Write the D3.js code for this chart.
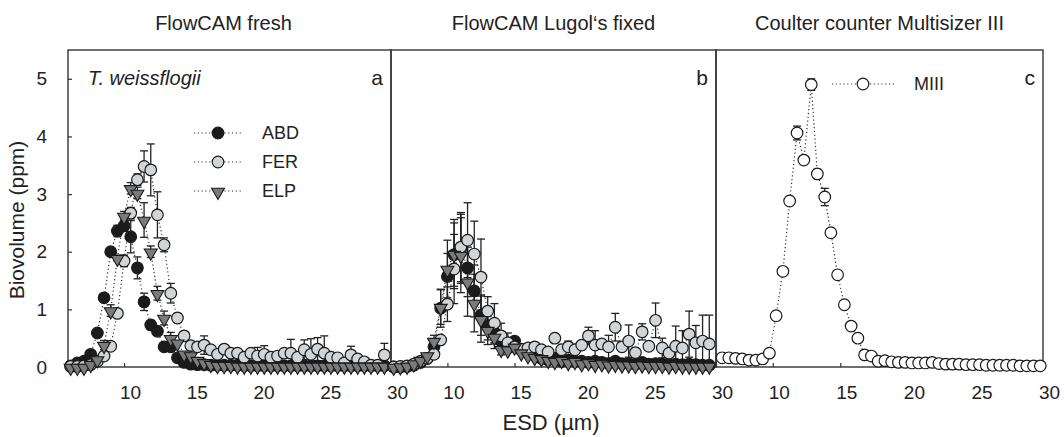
<!DOCTYPE html>
<html>
<head>
<meta charset="utf-8">
<script src="https://cdn.jsdelivr.net/npm/d3@7"></script>
<style>
    body { margin: 0; background: #fff; }
    svg text { font-family: "Liberation Sans", Arial, sans-serif; fill: #222; }
</style>
</head>
<body>
<div id="chart-div"></div>
<script>

// ESD bin centres (um) used by the FlowCAM series
const esd = [6.0, 6.5, 7.0, 7.5, 8.0, 8.5, 9.0, 9.5, 10.0, 10.5, 11.0, 11.5, 12.0, 12.5, 13.0, 13.5,
    14.0, 14.5, 15.0, 15.5, 16.0, 16.5, 17.0, 17.5, 18.0, 18.5, 19.0, 19.5, 20.0, 20.5, 21.0, 21.5,
    22.0, 22.5, 23.0, 23.5, 24.0, 24.5, 25.0, 25.5, 26.0, 26.5, 27.0, 27.5, 28.0, 28.5, 29.0, 29.5];

// panel a - FlowCAM fresh
const freshABD = [0.02, 0.07, 0.10, 0.22, 0.59, 1.20, 2.00, 2.36, 2.45, 2.26, 1.72, 1.13, 0.73, 0.62, 0.35, 0.35,
    0.16, 0.08, 0.05, 0.04, 0.04, 0.03, 0.03, 0.03, 0.03, 0.03, 0.02, 0.02, 0.02, 0.02, 0.02, 0.02,
    0.02, 0.02, 0.02, 0.02, 0.02, 0.02, 0.02, 0.02, 0.02, 0.02, 0.02, 0.02, 0.02, 0.02, 0.02, 0.02];
const freshFER = [0.01, 0.01, 0.02, 0.04, 0.10, 0.19, 0.36, 0.93, 1.84, 2.67, 3.25, 3.48, 3.42, 2.64, 2.12, 1.28,
    0.85, 0.54, 0.37, 0.35, 0.38, 0.30, 0.22, 0.31, 0.24, 0.24, 0.17, 0.24, 0.19, 0.22, 0.17, 0.19,
    0.24, 0.24, 0.17, 0.30, 0.22, 0.31, 0.24, 0.17, 0.16, 0.07, 0.21, 0.14, 0.09, 0.03, 0.03, 0.21];
const freshELP = [0.00, 0.00, 0.00, 0.05, 0.13, 0.38, 0.98, 1.89, 2.62, 3.10, 3.02, 2.55, 2.00, 1.28, 0.85, 0.50,
    0.42, 0.23, 0.20, 0.12, 0.08, 0.05, 0.03, 0.03, 0.03, 0.02, 0.02, 0.02, 0.02, 0.02, 0.02, 0.02,
    0.02, 0.02, 0.02, 0.02, 0.02, 0.02, 0.02, 0.02, 0.02, 0.02, 0.02, 0.02, 0.02, 0.02, 0.02, 0.02];
// error bars as [bin index, sd]
const freshABDErr = [[7, 0.10], [8, 0.10], [9, 0.28], [10, 0.19], [11, 0.15], [12, 0.08]];
const freshFERErr = [[8, 0.10], [9, 0.10], [10, 0.10], [11, 0.27], [12, 0.45], [13, 0.40], [14, 0.12], [15, 0.17],
    [16, 0.08], [20, 0.16], [28, 0.15], [29, 0.15], [33, 0.24], [35, 0.17], [36, 0.27], [37, 0.20], [38, 0.30],
    [40, 0.05], [42, 0.15], [47, 0.20]];
const freshELPErr = [[5, 0.08], [6, 0.10], [7, 0.05], [8, 0.08], [9, 0.10], [10, 0.10], [11, 0.30], [12, 0.10],
    [13, 0.12], [14, 0.12], [15, 0.10]];

// panel b - FlowCAM Lugol's fixed
const lugolABD = [0.00, 0.00, 0.01, 0.03, 0.08, 0.15, 0.35, 1.02, 1.57, 1.95, 2.05, 1.72, 1.32, 0.90, 0.72, 0.60,
    0.45, 0.42, 0.45, 0.30, 0.25, 0.20, 0.15, 0.12, 0.15, 0.10, 0.12, 0.10, 0.10, 0.08, 0.10, 0.08,
    0.06, 0.10, 0.06, 0.06, 0.05, 0.08, 0.05, 0.06, 0.05, 0.04, 0.05, 0.04, 0.05, 0.04, 0.03, 0.03];
const lugolFER = [0.00, 0.01, 0.02, 0.05, 0.10, 0.15, 0.22, 0.47, 1.09, 1.70, 2.08, 2.20, 1.96, 1.56, 0.97, 0.76,
    0.54, 0.42, 0.35, 0.31, 0.33, 0.35, 0.30, 0.26, 0.50, 0.30, 0.35, 0.30, 0.38, 0.54, 0.38, 0.40,
    0.35, 0.69, 0.35, 0.45, 0.25, 0.61, 0.36, 0.81, 0.33, 0.24, 0.36, 0.33, 0.57, 0.42, 0.45, 0.40];
const lugolELP = [0.00, 0.01, 0.02, 0.06, 0.12, 0.20, 0.45, 1.04, 1.70, 1.96, 1.94, 1.48, 1.11, 0.83, 0.64, 0.52,
    0.31, 0.30, 0.35, 0.25, 0.20, 0.17, 0.15, 0.12, 0.10, 0.12, 0.08, 0.10, 0.06, 0.08, 0.05, 0.06,
    0.04, 0.05, 0.04, 0.04, 0.03, 0.04, 0.03, 0.03, 0.03, 0.02, 0.03, 0.02, 0.02, 0.02, 0.02, 0.02];
const lugolABDErr = [[7, 0.33], [8, 0.40], [9, 0.55], [10, 0.60], [11, 0.50], [12, 0.45], [13, 0.35], [14, 0.25],
    [15, 0.20], [16, 0.15]];
const lugolFERErr = [[8, 0.30], [9, 0.60], [10, 0.60], [11, 0.65], [12, 0.57], [13, 0.66], [14, 0.25], [15, 0.34],
    [16, 0.22], [17, 0.17], [24, 0.08], [26, 0.10], [29, 0.15], [30, 0.25], [32, 0.20], [33, 0.24], [35, 0.28],
    [37, 0.14], [39, 0.30], [40, 0.17], [42, 0.35], [43, 0.30], [44, 0.40], [45, 0.30], [46, 0.45], [47, 0.50]];
const lugolELPErr = [[6, 0.10], [7, 0.30], [8, 0.50], [9, 0.60], [10, 0.65], [11, 0.60], [12, 0.50], [13, 0.40],
    [14, 0.25], [15, 0.20], [16, 0.10]];

// panel c - Coulter counter Multisizer III
const miiiESD = [6.25, 6.75, 7.25, 7.75, 8.25, 8.75, 9.25, 9.75, 10.25, 10.75, 11.25, 11.8, 12.3, 12.85, 13.3, 13.85,
    14.3, 14.8, 15.3, 15.8, 16.3, 16.8, 17.3, 17.8, 18.3, 18.8, 19.3, 19.8, 20.3, 20.8, 21.3, 21.8,
    22.3, 22.8, 23.3, 23.8, 24.3, 24.8, 25.3, 25.8, 26.3, 26.8, 27.3, 27.8, 28.3, 28.8, 29.3, 29.8];
const miiiVol = [0.16, 0.16, 0.15, 0.14, 0.12, 0.12, 0.14, 0.24, 0.89, 1.66, 2.88, 4.06, 3.59, 4.90, 3.35, 2.95,
    2.33, 1.60, 1.08, 0.71, 0.50, 0.21, 0.19, 0.10, 0.11, 0.09, 0.08, 0.08, 0.07, 0.07, 0.07, 0.08,
    0.06, 0.05, 0.05, 0.05, 0.04, 0.04, 0.04, 0.03, 0.03, 0.03, 0.03, 0.03, 0.02, 0.02, 0.02, 0.02];
const miiiErr = [[11, 0.12], [13, 0.10], [14, 0.08], [15, 0.15]];

const panelTitles = ["FlowCAM fresh", "FlowCAM Lugol\u2018s fixed", "Coulter counter Multisizer III"];
const panelLetters = ["a", "b", "c"];
const xTicks = [10, 15, 20, 25, 30];
const yTicks = [0, 1, 2, 3, 4, 5];
const seriesNames = ["ABD", "FER", "ELP"];


class sizeChart {
    constructor() {
        this.parentElement = "chart-div";
        this.initVis();
    }

    initVis() {
        let vis = this;
        vis.width = 1064;
        vis.height = 437;
        vis.top = 50;
        vis.bottom = 367;
        vis.edges = [68, 391, 716, 1043];

        vis.svg = d3.select("#" + vis.parentElement)
            .append("svg")
            .attr("width", vis.width)
            .attr("height", vis.height);

        vis.y = d3.scaleLinear()
            .domain([0, 5.5])
            .range([vis.bottom, vis.top]);

        vis.styles = {
            ABD: {shape: "circle", fill: "#1b1b1b"},
            FER: {shape: "circle", fill: "#d2d5d7"},
            ELP: {shape: "triangle", fill: "#7b7b7b"},
            MIII: {shape: "circle", fill: "#ffffff"}
        };

        vis.drawPanel(0, [
            {name: "ABD", x: esd, v: freshABD, err: freshABDErr},
            {name: "FER", x: esd, v: freshFER, err: freshFERErr},
            {name: "ELP", x: esd, v: freshELP, err: freshELPErr}
        ]);
        vis.drawPanel(1, [
            {name: "ABD", x: esd, v: lugolABD, err: lugolABDErr},
            {name: "FER", x: esd, v: lugolFER, err: lugolFERErr},
            {name: "ELP", x: esd, v: lugolELP, err: lugolELPErr}
        ]);
        vis.drawPanel(2, [
            {name: "MIII", x: miiiESD, v: miiiVol, err: miiiErr}
        ]);

        vis.drawLabels();
    }

    marker(sel, name, cx, cy) {
        let vis = this;
        let st = vis.styles[name];
        if (st.shape === "circle") {
            sel.append("circle")
                .attr("cx", cx)
                .attr("cy", cy)
                .attr("r", 5.8)
                .attr("fill", st.fill)
                .attr("stroke", "#1a1a1a")
                .attr("stroke-width", 1.2);
        } else {
            sel.append("path")
                .attr("d", d3.symbol().type(d3.symbolTriangle).size(72)())
                .attr("transform", `translate(${cx},${cy + 1}) rotate(180)`)
                .attr("fill", st.fill)
                .attr("stroke", "#1a1a1a")
                .attr("stroke-width", 1.1);
        }
    }

    drawPanel(p, series) {
        let vis = this;
        let x = d3.scaleLinear()
            .domain([5.8, 30])
            .range([vis.edges[p], vis.edges[p + 1]]);

        let g = vis.svg.append("g").attr("class", "panel-" + panelLetters[p]);

        // frame
        g.append("rect")
            .attr("x", vis.edges[p])
            .attr("y", vis.top)
            .attr("width", vis.edges[p + 1] - vis.edges[p])
            .attr("height", vis.bottom - vis.top)
            .attr("fill", "none")
            .attr("stroke", "#333")
            .attr("stroke-width", 1.4);

        // x axis, ticks pointing inward
        g.append("g")
            .attr("transform", `translate(0,${vis.bottom})`)
            .call(d3.axisBottom(x).tickValues(xTicks).tickFormat(d3.format("d")).tickSize(-4).tickPadding(19))
            .call(a => a.select(".domain").remove())
            .call(a => a.selectAll("line").attr("stroke", "#333").attr("stroke-width", 1.2))
            .call(a => a.selectAll("text").attr("dx", 6).attr("font-size", 19)
                .attr("font-family", "Liberation Sans, Arial, sans-serif").attr("fill", "#222"));

        if (p === 0) {
            g.append("g")
                .attr("transform", `translate(${vis.edges[0]},0)`)
                .call(d3.axisLeft(vis.y).tickValues(yTicks).tickFormat(d3.format("d")).tickSize(-4).tickPadding(21))
                .call(a => a.select(".domain").remove())
                .call(a => a.selectAll("line").attr("stroke", "#333").attr("stroke-width", 1.2))
                .call(a => a.selectAll("text").attr("font-size", 19)
                    .attr("font-family", "Liberation Sans, Arial, sans-serif").attr("fill", "#222"));
        }

        let line = d3.line()
            .x(d => x(d[0]))
            .y(d => vis.y(d[1]));

        // dotted connecting lines
        series.forEach(s => {
            let pts = s.x.map((xv, i) => [xv, s.v[i]]);
            g.append("path")
                .attr("d", line(pts))
                .attr("fill", "none")
                .attr("stroke", "#333")
                .attr("stroke-width", 1.2)
                .attr("stroke-dasharray", "1.2,2.6");
        });

        // error bars
        series.forEach(s => {
            s.err.forEach(e => {
                let i = e[0];
                let cx = x(s.x[i]);
                let y1 = vis.y(s.v[i] + e[1]);
                let y0 = vis.y(Math.max(0, s.v[i] - e[1]));
                g.append("line")
                    .attr("x1", cx).attr("x2", cx)
                    .attr("y1", y1).attr("y2", y0)
                    .attr("stroke", "#222").attr("stroke-width", 1.3);
                [y1, y0].forEach(yy => {
                    g.append("line")
                        .attr("x1", cx - 4).attr("x2", cx + 4)
                        .attr("y1", yy).attr("y2", yy)
                        .attr("stroke", "#222").attr("stroke-width", 1.3);
                });
            });
        });

        // markers
        series.forEach(s => {
            s.x.forEach((xv, i) => {
                vis.marker(g, s.name, x(xv), vis.y(s.v[i]));
            });
        });

        // panel title + letter
        vis.svg.append("text")
            .attr("x", (vis.edges[p] + vis.edges[p + 1]) / 2 - (p === 0 ? 6 : 0))
            .attr("y", 30)
            .attr("text-anchor", "middle")
            .attr("font-size", 20)
            .text(panelTitles[p]);

        vis.svg.append("text")
            .attr("x", vis.edges[p + 1] - 8)
            .attr("y", 85)
            .attr("text-anchor", "end")
            .attr("font-size", 21)
            .text(panelLetters[p]);
    }

    drawLabels() {
        let vis = this;

        // species
        vis.svg.append("text")
            .attr("x", 88)
            .attr("y", 85)
            .attr("font-size", 20)
            .attr("font-style", "italic")
            .text("T. weissflogii");

        // legend panel a
        seriesNames.forEach((n, i) => {
            let ly = 133 + i * 29;
            vis.svg.append("line")
                .attr("x1", 194).attr("x2", 242)
                .attr("y1", ly).attr("y2", ly)
                .attr("stroke", "#333")
                .attr("stroke-width", 1.2)
                .attr("stroke-dasharray", "1.2,2.6");
            vis.marker(vis.svg, n, 218, ly);
            vis.svg.append("text")
                .attr("x", 262)
                .attr("y", ly)
                .attr("dy", "0.36em")
                .attr("font-size", 18)
                .text(n);
        });

        // legend panel c
        vis.svg.append("line")
            .attr("x1", 832).attr("x2", 894)
            .attr("y1", 84).attr("y2", 84)
            .attr("stroke", "#333")
            .attr("stroke-width", 1.2)
            .attr("stroke-dasharray", "1.2,2.6");
        vis.marker(vis.svg, "MIII", 863, 84);
        vis.svg.append("text")
            .attr("x", 914)
            .attr("y", 84)
            .attr("dy", "0.36em")
            .attr("font-size", 18)
            .text("MIII");

        // axis titles
        vis.svg.append("text")
            .attr("transform", "translate(24,220) rotate(-90)")
            .attr("text-anchor", "middle")
            .attr("font-size", 21)
            .text("Biovolume (ppm)");

        vis.svg.append("text")
            .attr("x", 551)
            .attr("y", 430)
            .attr("text-anchor", "middle")
            .attr("font-size", 22)
            .text("ESD (\u00b5m)");
    }
}

new sizeChart();
</script>
</body>
</html>
